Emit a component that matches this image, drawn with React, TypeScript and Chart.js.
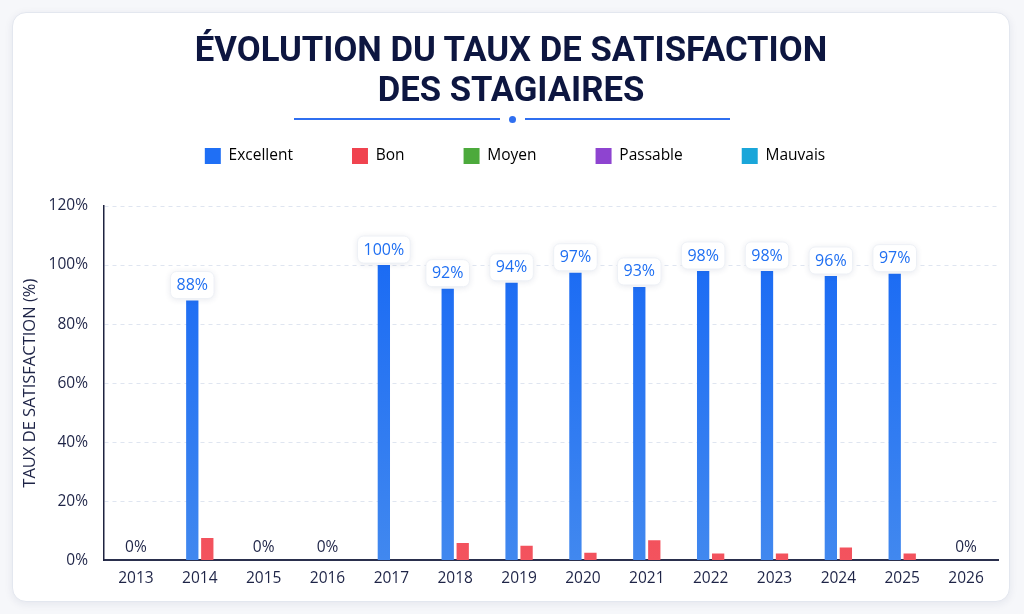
import React, { useEffect, useRef } from "react";
import { Chart, registerables } from "chart.js";

Chart.register(...registerables);

const years = ["2013", "2014", "2015", "2016", "2017", "2018", "2019", "2020", "2021", "2022", "2023", "2024", "2025", "2026"];
const excellent = [null, 88, null, null, 100, 92, 94, 97.4, 92.6, 98, 98, 96.3, 97.1, null];
const bon = [null, 7.6, null, null, 0, 5.9, 5, 2.6, 6.8, 2.3, 2.3, 4.4, 2.3, null];
const moyen = [null, null, null, null, null, null, null, null, null, null, null, null, null, null];
const passable = [null, null, null, null, null, null, null, null, null, null, null, null, null, null];
const mauvais = [null, null, null, null, null, null, null, null, null, null, null, null, null, null];
const seriesNames = ["Excellent", "Bon", "Moyen", "Passable", "Mauvais"];
const seriesColors = ["#1f6ff5", "#f0434f", "#4caa3c", "#8e44d0", "#1aa6d9"];

const textDark = "#1e2447";

// gradient over the chart area, darker at the top
const verticalGradient = (top: string, bottom: string, fallback: string) => (ctx: any) => {
  const { chart } = ctx;
  const area = chart.chartArea;
  if (!area) return fallback;
  const g = chart.ctx.createLinearGradient(0, area.top, 0, area.bottom);
  g.addColorStop(0, top);
  g.addColorStop(1, bottom);
  return g;
};

// extra room under the legend, and nudge it a bit to the right
const legendSpacing = {
  id: "legendSpacing",
  beforeInit(chart: any) {
    if (!chart.legend) return;
    const origFit = chart.legend.fit;
    chart.legend.fit = function () {
      origFit.bind(chart.legend)();
      this.height += 32;
    };
  },
  afterLayout(chart: any) {
    if (!chart.legend) return;
    chart.legend.left += 8;
    chart.legend.right += 8;
  },
};

const valueLabels = {
  id: "valueLabels",
  afterDatasetsDraw(chart: any) {
    const { ctx } = chart;
    const xScale = chart.scales.x;
    const yScale = chart.scales.y;
    const meta = chart.getDatasetMeta(0);
    ctx.save();
    ctx.textAlign = "center";
    ctx.textBaseline = "middle";
    excellent.forEach((v, i) => {
      if (v === null) {
        const x = xScale.getPixelForValue(i);
        const y = yScale.getPixelForValue(0) - 13;
        ctx.font = "15.5px 'Open Sans', sans-serif";
        ctx.fillStyle = textDark;
        ctx.fillText("0%", x, y);
        return;
      }
      ctx.font = "16px 'Open Sans', sans-serif";
      const bar = meta.data[i];
      const text = Math.round(v) + "%";
      const w = ctx.measureText(text).width + 12;
      const h = 27;
      const bx = bar.x - w / 2;
      const by = bar.y - 2 - h;
      ctx.save();
      ctx.shadowColor = "rgba(30, 50, 100, 0.12)";
      ctx.shadowBlur = 6;
      ctx.shadowOffsetY = 1;
      ctx.fillStyle = "#ffffff";
      ctx.beginPath();
      ctx.roundRect(bx, by, w, h, 6);
      ctx.fill();
      ctx.restore();
      ctx.strokeStyle = "#eef1f6";
      ctx.lineWidth = 1;
      ctx.beginPath();
      ctx.roundRect(bx, by, w, h, 6);
      ctx.stroke();
      ctx.fillStyle = "#1f6ff2";
      ctx.fillText(text, bar.x, by + h / 2 + 0.5);
    });
    ctx.restore();
  },
};

const App: React.FC = () => {
  const chartRef = useRef<HTMLCanvasElement | null>(null);

  useEffect(() => {
    const canvas = chartRef.current;
    if (!canvas) return;
    const context = canvas.getContext("2d");
    if (!context) return;

    Chart.defaults.font.family = "'Open Sans', sans-serif";

    const chart = new Chart(context, {
      type: "bar",
      data: {
        labels: years,
        datasets: [
          { label: seriesNames[0], data: excellent, backgroundColor: verticalGradient("#1466f5", "#4188ef", seriesColors[0]) },
          { label: seriesNames[1], data: bon, backgroundColor: verticalGradient("#ee3a47", "#f3535e", seriesColors[1]) },
          { label: seriesNames[2], data: moyen, backgroundColor: seriesColors[2] },
          { label: seriesNames[3], data: passable, backgroundColor: seriesColors[3] },
          { label: seriesNames[4], data: mauvais, backgroundColor: seriesColors[4] },
        ],
      },
      options: {
        animation: false,
        responsive: true,
        maintainAspectRatio: false,
        events: [],
        skipNull: true,
        categoryPercentage: 0.47,
        barPercentage: 0.82,
        layout: { padding: { left: 3, right: 11, top: 0, bottom: 4 } },
        plugins: {
          tooltip: { enabled: false },
          legend: {
            position: "top",
            labels: {
              boxWidth: 16,
              boxHeight: 16,
              padding: 59,
              color: textDark,
              font: { size: 15.5 },
              useBorderRadius: true,
              borderRadius: 3,
              generateLabels: () =>
                seriesNames.map((name, i) => ({
                  text: name,
                  fillStyle: seriesColors[i],
                  strokeStyle: seriesColors[i],
                  lineWidth: 0,
                  datasetIndex: i,
                  hidden: false,
                })),
            },
          },
        },
        scales: {
          x: {
            grid: { display: false, drawTicks: false },
            border: { display: true, color: "#2a2f4d", width: 2 },
            ticks: { color: textDark, font: { size: 15.5 }, padding: 9 },
          },
          y: {
            min: 0,
            max: 120,
            afterFit: (scale: any) => {
              scale.width = 88;
            },
            ticks: {
              stepSize: 20,
              color: textDark,
              font: { size: 15.5 },
              padding: 16,
              callback: (v: any) => v + "%",
            },
            grid: { color: "#dfe5f0", drawTicks: false, lineWidth: 1 },
            border: { display: true, color: "#1e2340", width: 1.5, dash: [4, 4] },
            title: {
              display: true,
              text: "TAUX DE SATISFACTION (%)",
              color: textDark,
              font: { size: 16.5 },
              padding: { top: 4, bottom: 0 },
            },
          },
        },
      },
      plugins: [legendSpacing, valueLabels],
    });

    return () => {
      chart.destroy();
    };
  }, []);

  return (
    <div style={{ position: "fixed", inset: 0, background: "#f6f7fa" }}>
      <div
        style={{
          position: "absolute",
          left: 12,
          top: 12,
          width: 998,
          height: 590,
          boxSizing: "border-box",
          background: "#ffffff",
          border: "1px solid #e3e7ef",
          borderRadius: 14,
          boxShadow: "0 2px 8px rgba(20, 40, 90, 0.08)",
        }}
      >
        <div
          style={{
            position: "absolute",
            top: 16,
            left: 0,
            right: 0,
            textAlign: "center",
            fontFamily: "Roboto, sans-serif",
            fontWeight: 700,
            fontSize: 34.7,
            lineHeight: "40px",
            color: "#0d1640",
            zIndex: 2,
          }}
        >
          ÉVOLUTION DU TAUX DE SATISFACTION
          <br />
          DES STAGIAIRES
        </div>
        <div style={{ position: "absolute", top: 105, left: 281, width: 206, height: 2, background: "#2f6ff0" }} />
        <div style={{ position: "absolute", top: 102.5, left: 495.5, width: 7, height: 7, borderRadius: "50%", background: "#2f6ff0" }} />
        <div style={{ position: "absolute", top: 105, left: 512, width: 205, height: 2, background: "#2f6ff0" }} />
        <div style={{ position: "absolute", top: 76, left: 0, width: 996, height: 512 }}>
          <canvas ref={chartRef} />
        </div>
      </div>
    </div>
  );
};

export default App;
